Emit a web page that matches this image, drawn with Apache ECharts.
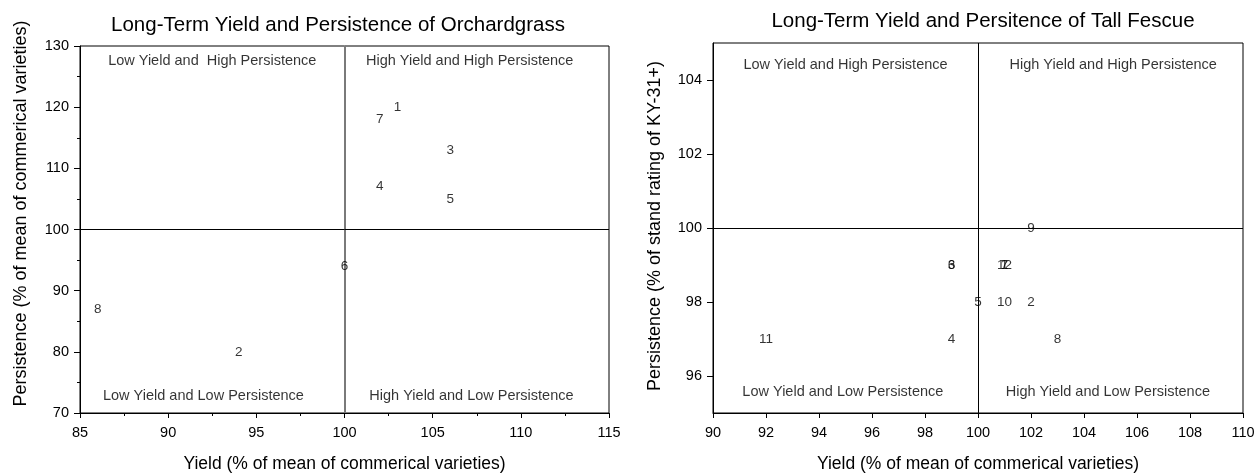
<!DOCTYPE html>
<html>
<head>
<meta charset="utf-8">
<script src="https://cdn.jsdelivr.net/npm/echarts@6/dist/echarts.min.js"></script>
<style>html,body{margin:0;padding:0;background:#fff}#c{width:1254px;height:474px}</style>
</head>
<body>
<div id="c"></div>
<script>
// Orchardgrass
const orchardLabels = ['1', '2', '3', '4', '5', '6', '7', '8'];
const orchardYield = [103, 94, 106, 102, 106, 100, 102, 86];
const orchardPersist = [120, 80, 113, 107, 105, 94, 118, 87];
// Tall Fescue
const fescueLabels = ['1', '2', '3', '4', '5', '6', '7', '8', '9', '10', '11', '12'];
const fescueYield = [101, 102, 99, 99, 100, 99, 101, 103, 102, 101, 92, 101];
const fescuePersist = [99, 98, 99, 97, 98, 99, 99, 97, 100, 98, 97, 99];
// Tick labels
const orchardXTicks = [85, 90, 95, 100, 105, 110, 115];
const orchardYTicks = [70, 80, 90, 100, 110, 120, 130];
const fescueXTicks = [90, 92, 94, 96, 98, 100, 102, 104, 106, 108, 110];
const fescueYTicks = [96, 98, 100, 102, 104];
// Quadrant captions
const orchardQuadText = ['Low Yield and  High Persistence', 'High Yield and High Persistence', 'Low Yield and Low Persistence', 'High Yield and Low Persistence'];
const fescueQuadText = ['Low Yield and High Persistence', 'High Yield and High Persistence', 'Low Yield and Low Persistence', 'High Yield and Low Persistence'];

const SANS = "'Liberation Sans', Arial, sans-serif";

const orchardQuadPos = [[92.5, 127.5], [107.1, 127.5], [92.0, 72.8], [107.2, 72.8]];
const fescueQuadPos = [[95.0, 104.4], [105.1, 104.4], [94.9, 95.57], [104.9, 95.57]];

function pts(xs, ys, labels) {
  return labels.map((l, i) => ({ name: l, value: [xs[i], ys[i]] }));
}
function quad(texts, pos) {
  return texts.map((t, i) => ({ name: t, value: pos[i] }));
}

function xAxisCfg(gi, min, max, interval, ticks, minor) {
  return {
    type: 'value', gridIndex: gi, min: min, max: max, interval: interval,
    name: 'Yield (% of mean of commerical varieties)', nameLocation: 'middle', nameGap: 42,
    nameTextStyle: { fontFamily: SANS, fontSize: 17.5, color: '#000' },
    axisLine: { show: true, onZero: false, lineStyle: { color: '#000', width: 1 } },
    axisTick: { show: true, inside: false, length: 5, lineStyle: { color: '#000' }, customValues: ticks },
    minorTick: { show: minor, splitNumber: 2, length: 3, lineStyle: { color: '#000' } },
    axisLabel: { margin: 12, fontFamily: SANS, fontSize: 14.5, color: '#000', customValues: ticks },
    splitLine: { show: false }, minorSplitLine: { show: false }
  };
}
function yAxisCfg(gi, min, max, interval, ticks, minor, name, gap, shift) {
  const a = {
    type: 'value', gridIndex: gi, min: min, max: max,
    name: name, nameLocation: 'middle', nameGap: gap,
    nameTextStyle: { fontFamily: SANS, fontSize: 18, color: '#000', padding: [0, 0, 0, shift] },
    axisLine: { show: true, onZero: false, lineStyle: { color: '#000', width: 1 } },
    axisTick: { show: true, inside: false, length: 6, lineStyle: { color: '#000' }, customValues: ticks },
    minorTick: { show: minor, splitNumber: 2, length: 3, lineStyle: { color: '#000' } },
    axisLabel: { margin: 11, fontFamily: SANS, fontSize: 14.5, color: '#000', customValues: ticks },
    splitLine: { show: false }, minorSplitLine: { show: false }
  };
  if (interval) a.interval = interval;
  return a;
}

function pointSeries(xi, data, lines) {
  return {
    type: 'scatter', xAxisIndex: xi, yAxisIndex: xi, data: data,
    symbolSize: 1, itemStyle: { color: 'rgba(0,0,0,0)' }, silent: true,
    label: { show: true, position: 'inside', formatter: p => p.name, fontFamily: SANS, fontSize: 13.5, color: '#000' },
    markLine: {
      silent: true, symbol: ['none', 'none'], label: { show: false }, animation: false,
      data: lines
    },
    z: 5
  };
}
function quadSeries(xi, data) {
  return {
    type: 'scatter', xAxisIndex: xi, yAxisIndex: xi, data: data,
    symbolSize: 1, itemStyle: { color: 'rgba(0,0,0,0)' }, silent: true,
    label: { show: true, position: 'inside', formatter: p => p.name, fontFamily: SANS, fontSize: 14.5, color: '#000' }
  };
}

const chart = echarts.init(document.getElementById('c'), null, { renderer: 'canvas' });
chart.setOption({
  animation: false,
  backgroundColor: '#fff',
  title: [
    { text: 'Long-Term Yield and Persistence of Orchardgrass', left: 333, top: 10, textAlign: 'center',
      textStyle: { fontFamily: SANS, fontSize: 20.5, fontWeight: 'normal', color: '#000' } },
    { text: 'Long-Term Yield and Persitence of Tall Fescue', left: 978, top: 6, textAlign: 'center',
      textStyle: { fontFamily: SANS, fontSize: 20.5, fontWeight: 'normal', color: '#000' } }
  ],
  grid: [
    { left: 80, top: 46, width: 529, height: 367, containLabel: false, outerBoundsMode: 'none',
      show: true, borderColor: '#000', borderWidth: 1, backgroundColor: 'transparent' },
    { left: 713, top: 43, width: 530, height: 370, containLabel: false, outerBoundsMode: 'none',
      show: true, borderColor: '#000', borderWidth: 1, backgroundColor: 'transparent' }
  ],
  xAxis: [
    xAxisCfg(0, 85, 115, 5, orchardXTicks, true),
    xAxisCfg(1, 90, 110, 2, fescueXTicks, false)
  ],
  yAxis: [
    yAxisCfg(0, 70, 130, 10, orchardYTicks, true, 'Persistence (% of mean of commerical varieties)', 50, 32),
    yAxisCfg(1, 95, 105, null, fescueYTicks, false, 'Persistence (% of stand rating of KY-31+)', 49, 4)
  ],
  series: [
    pointSeries(0, pts(orchardYield, orchardPersist, orchardLabels), [
      { xAxis: 100, lineStyle: { color: '#7a7a7a', width: 2, type: 'solid' } },
      { yAxis: 100, lineStyle: { color: '#000', width: 1, type: 'solid' } }
    ]),
    quadSeries(0, quad(orchardQuadText, orchardQuadPos)),
    pointSeries(1, pts(fescueYield, fescuePersist, fescueLabels), [
      { xAxis: 100, lineStyle: { color: '#000', width: 1, type: 'solid' } },
      { yAxis: 100, lineStyle: { color: '#000', width: 1, type: 'solid' } }
    ]),
    quadSeries(1, quad(fescueQuadText, fescueQuadPos))
  ]
});
</script>
</body>
</html>
